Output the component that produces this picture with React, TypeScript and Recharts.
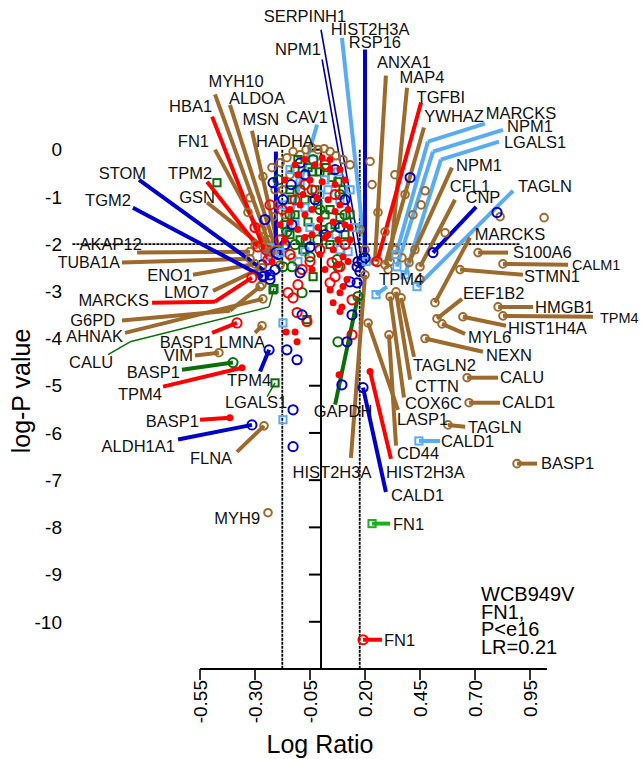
import React from 'react';
import { ComposedChart, XAxis, YAxis, Scatter, ReferenceLine, Customized } from 'recharts';

type P = [number, number];

const xTicks = [-0.55, -0.3, -0.05, 0.2, 0.45, 0.7, 0.95];
const yTicks = [0, -1, -2, -3, -4, -5, -6, -7, -8, -9, -10];

// unlabeled proteins, grouped by marker
const brownPts: P[] = [
  [-0.155, -0.17], [-0.127, -0.04], [-0.095, -0.11], [-0.068, 0], [-0.041, 0.04], [-0.014, 0], [0.014, 0.02],
  [0.041, -0.04], [0.068, -0.13], [0.1, -0.21], [-0.186, -0.28], [-0.223, -0.38], [-0.264, -0.57], [-0.323, -1.02],
  [-0.332, -1.33], [-0.218, -1.42], [-0.268, -1.69], [-0.173, -0.85], [-0.141, -0.53], [-0.241, -1.91], [-0.3, -2.01],
  [-0.164, -2.08], [0.132, -0.32], [0.223, -0.25], [0.232, -0.74], [0.259, -1.33], [0.291, -1.74], [0.336, -0.53],
  [0.382, -0.95], [0.418, -1.38], [0.455, -1.17], [0.473, -0.87], [0.564, -1.76], [0.814, -1.42], [1.014, -1.44],
  [0.177, -1.69], [0.2, -2.12], [0.336, -2.12], [0.368, -2.29], [0.427, -2.12], [0.305, -2.54], [0.45, -2.75],
  [-0.186, -2.44], [-0.268, -2.86], [-0.132, -2.29], [-0.195, -1.17], [-0.164, -1.38], [-0.209, -0.85],
];
const bluePts: P[] = [
  [-0.095, -0.28], [-0.218, -0.7], [-0.136, -0.74], [-0.173, -1.06], [-0.073, -0.53], [0.064, -0.42], [0.109, -1.06],
  [-0.255, -1.48], [-0.132, -1.59], [-0.05, -2.06], [-0.095, -2.61], [0.164, -2.82], [0.132, -2.8], [0.177, -2.58],
  [0.164, -2.48], [-0.086, -3.5], [-0.155, -4.24], [-0.109, -4.45], [-0.127, -5.51], [-0.127, -6.29], [0.141, -3.5],
  [0.118, -4.07], [0.095, -4.98], [0.8, -1.33], [0.405, -0.59], [-0.268, -2.44], [-0.209, -2.54], [-0.232, -2.75],
  [-0.259, -2.67], [-0.195, -2.22], [-0.027, -1.06], [0.086, -1.65], [-0.164, -2.01], [0.018, -1.8],
];
const redCirclePts: P[] = [
  [-0.118, -1.06], [-0.177, -1.27], [-0.041, -0.85], [0.018, -0.32], [-0.141, -2.22], [-0.086, -2.54], [-0.15, -3.03],
  [-0.127, -3.14], [-0.105, -2.86], [0.041, -2.82], [0.064, -2.69], [0.086, -2.48], [0.05, -2.39], [-0.109, -3.45],
  [0.141, -3.92], [-0.064, -3.64], [-0.25, -2.12], [-0.3, -1.65], [-0.232, -1.17], [0.109, -2.01], [0.141, -3.18],
  [-0.05, -2.37], [-0.073, -0.74], [0.064, -0.95], [-0.005, -2.12], [-0.186, -1.91],
];
const redDotPts: P[] = [
  [-0.073, -0.21], [-0.027, -0.32], [0.005, -0.17], [0.041, -0.42], [-0.105, -0.53], [-0.05, -0.64], [0.005, -0.68],
  [0.064, -0.74], [0.109, -0.64], [-0.082, -0.95], [-0.018, -1.02], [0.032, -1.06], [0.086, -1.17], [-0.141, -1.27],
  [-0.073, -1.38], [-0.005, -1.48], [0.055, -1.53], [0.109, -1.59], [-0.105, -1.69], [-0.041, -1.8], [0.018, -1.86],
  [0.077, -1.91], [-0.164, -1.91], [-0.186, -1.59], [0.132, -1.91], [0.055, -2.12], [-0.005, -2.22], [0.1, -2.27],
  [-0.041, -2.54], [0.118, -2.75], [0.1, -2.9], [0.086, -3.03], [0.055, -3.24], [0.086, -3.43], [0.095, -3.33],
  [-0.159, -3.86], [-0.118, -3.86], [-0.109, -4.07], [0.082, -4.77], [-0.223, -2.37],
  [-0.118, -0.32], [0.041, -0.21], [0.086, -0.42], [-0.164, -0.64], [-0.095, -1.17], [-0.041, -1.27], [0.064, -1.31],
  [0.123, -1.27], [-0.141, -1.53], [-0.014, -1.65], [0.032, -1.8], [-0.073, -1.86], [0.132, -1.65], [0.077, -2.44],
  [0.018, -2.54], [0.123, -2.37], [0.041, -2.97],
];
const greenCirclePts: P[] = [
  [-0.173, -2.48], [-0.132, -2.48], [-0.05, -2.27], [-0.086, -3.03], [0.077, -2.48], [0.073, -2.33], [0.077, -4.07],
  [-0.095, -0.85], [-0.005, -1.27], [-0.155, -1.74], [0.086, -0.95], [-0.195, -0.64], [0.041, -1.65], [-0.068, -1.91],
  [-0.036, -0.21], [-0.141, -1.38], [0.109, -1.38], [-0.014, -1.91], [-0.118, -2.01],
];
const greenSquarePts: P[] = [
  [-0.118, -0.42], [-0.059, -0.38], [-0.005, -0.47], [0.05, -0.59], [0.1, -0.85], [-0.141, -0.85], [-0.073, -1.06],
  [-0.014, -1.17], [0.041, -1.27], [-0.118, -1.38], [-0.059, -1.53], [0.086, -1.44], [-0.164, -1.59], [-0.095, -1.91],
  [0.009, -1.69], [-0.036, -2.69], [-0.064, -3.6], [-0.218, -2.97], [-0.473, -0.7], [0.132, -1.38],
  [-0.105, -0.21], [-0.041, -0.47], [0.023, -0.38], [0.077, -0.68], [-0.132, -1.06], [-0.027, -0.85], [0.018, -1.38],
  [0.064, -1.59], [0.109, -1.8], [-0.141, -1.8], [-0.082, -2.12], [0.041, -2.01],
];
const lightBluePts: P[] = [
  [-0.141, -0.42], [-0.095, -0.68], [-0.036, -0.21], [0.032, -0.85], [0.077, -0.47], [-0.177, -1.17], [-0.05, -1.65],
  [0.068, -1.8], [0.123, -2.16], [-0.173, -3.67], [-0.173, -5.72], [-0.255, -2.27], [-0.232, -2.08], [-0.073, -2.16],
  [0.155, -1.65], [-0.005, -0.95], [-0.073, -1.23], [0.086, -1.06], [-0.118, -1.59], [0.018, -0.64], [0.132, -0.85],
  [-0.105, -2.37], [0.086, -2.12],
];

// labelled proteins: point, leader path (elbows then end), text anchor
type Callout = {
  g: string; x: number; y: number; path: P[]; t: P; a: 'start' | 'middle' | 'end';
  c: string; m: 'c' | 's' | 'd'; w?: number; fs?: number;
};
const callouts: Callout[] = [
  { g: 'SERPINH1', x: 0.186, y: -2.37, path: [[0, 2.54]], t: [-0.073, 2.82], a: 'middle', c: 'nv', m: 'c', w: 1.6 },
  { g: 'NPM1', x: 0.168, y: -2.37, path: [[0.005, 1.91]], t: [-0.105, 2.12], a: 'middle', c: 'nv', m: 'c', w: 1.6 },
  { g: 'HIST2H3A', x: 0.205, y: -2.37, path: [[0.095, 2.37]], t: [0.223, 2.56], a: 'middle', c: 'lb', m: 's' },
  { g: 'RSP16', x: 0.2, y: -2.29, path: [[0.2, 2.12]], t: [0.245, 2.27], a: 'middle', c: 'bl', m: 'c' },
  { g: 'ANXA1', x: 0.245, y: -2.37, path: [[0.295, 1.57]], t: [0.377, 1.86], a: 'middle', c: 'br', m: 'c' },
  { g: 'MAP4', x: 0.314, y: -2.37, path: [[0.391, 1.31]], t: [0.459, 1.53], a: 'middle', c: 'br', m: 'c' },
  { g: 'TGFBI', x: 0.255, y: -2.37, path: [[0.455, 1.0]], t: [0.545, 1.12], a: 'middle', c: 'rd', m: 'c' },
  { g: 'YWHAZ', x: 0.291, y: -2.44, path: [[0.468, 0.47]], t: [0.605, 0.7], a: 'middle', c: 'br', m: 'c' },
  { g: 'MARCKS', x: 0.341, y: -2.22, path: [[0.486, 0.17], [0.745, 0.55]], t: [0.909, 0.78], a: 'middle', c: 'lb', m: 's' },
  { g: 'NPM1', x: 0.345, y: -2.48, path: [[0.509, -0.04], [0.827, 0.42]], t: [0.95, 0.49], a: 'middle', c: 'lb', m: 's' },
  { g: 'LGALS1', x: 0.382, y: -2.65, path: [[0.545, -0.21], [0.809, 0.17]], t: [0.973, 0.15], a: 'middle', c: 'lb', m: 's' },
  { g: 'NPM1', x: 0.4, y: -2.39, path: [[0.595, -0.38]], t: [0.718, -0.32], a: 'middle', c: 'br', m: 'c' },
  { g: 'CFL1', x: 0.45, y: -2.48, path: [[0.609, -1.06]], t: [0.677, -0.78], a: 'middle', c: 'br', m: 'c' },
  { g: 'CNP', x: 0.509, y: -2.18, path: [[0.705, -1.21]], t: [0.736, -1.0], a: 'middle', c: 'bl', m: 'c' },
  { g: 'TAGLN', x: 0.436, y: -2.9, path: [[0.873, -0.87]], t: [1.018, -0.78], a: 'middle', c: 'lb', m: 's' },
  { g: 'MARCKS', x: 0.518, y: -3.24, path: [[0.677, -1.86]], t: [0.859, -1.8], a: 'middle', c: 'br', m: 'c' },
  { g: 'S100A6', x: 0.714, y: -2.18, path: [[0.85, -2.18]], t: [0.873, -2.18], a: 'start', c: 'br', m: 'c' },
  { g: 'CALM1', x: 0.827, y: -2.42, path: [[1.123, -2.44]], t: [1.141, -2.44], a: 'start', c: 'br', m: 'c', fs: 14.5 },
  { g: 'STMN1', x: 0.632, y: -2.54, path: [[0.918, -2.65]], t: [0.923, -2.69], a: 'start', c: 'br', m: 'c' },
  { g: 'EEF1B2', x: 0.527, y: -3.58, path: [[0.641, -3.16]], t: [0.645, -3.05], a: 'start', c: 'br', m: 'c' },
  { g: 'HMGB1', x: 0.805, y: -3.33, path: [[0.964, -3.33]], t: [0.973, -3.33], a: 'start', c: 'br', m: 'c' },
  { g: 'TPM4', x: 0.827, y: -3.52, path: [[1.236, -3.54]], t: [1.268, -3.56], a: 'start', c: 'br', m: 'c', fs: 14.5 },
  { g: 'HIST1H4A', x: 0.645, y: -3.54, path: [[0.841, -3.73]], t: [0.85, -3.79], a: 'start', c: 'br', m: 'c' },
  { g: 'MYL6', x: 0.55, y: -3.69, path: [[0.655, -3.9]], t: [0.668, -3.98], a: 'start', c: 'br', m: 'c' },
  { g: 'NEXN', x: 0.473, y: -4.0, path: [[0.736, -4.28]], t: [0.75, -4.36], a: 'start', c: 'br', m: 'c' },
  { g: 'TAGLN2', x: 0.364, y: -3.14, path: [[0.423, -4.39]], t: [0.418, -4.56], a: 'start', c: 'br', m: 'c' },
  { g: 'CTTN', x: 0.341, y: -3.01, path: [[0.405, -4.87]], t: [0.427, -5.0], a: 'start', c: 'br', m: 'c' },
  { g: 'COX6C', x: 0.314, y: -3.11, path: [[0.377, -5.25]], t: [0.382, -5.38], a: 'start', c: 'br', m: 'c' },
  { g: 'LASP1', x: 0.214, y: -3.67, path: [[0.35, -5.51]], t: [0.345, -5.72], a: 'start', c: 'br', m: 'c' },
  { g: 'CD44', x: 0.309, y: -3.92, path: [[0.341, -6.27]], t: [0.345, -6.44], a: 'start', c: 'br', m: 'c' },
  { g: 'CALU', x: 0.664, y: -4.83, path: [[0.805, -4.83]], t: [0.814, -4.81], a: 'start', c: 'br', m: 'c' },
  { g: 'CALD1', x: 0.673, y: -5.36, path: [[0.814, -5.36]], t: [0.823, -5.36], a: 'start', c: 'br', m: 'c' },
  { g: 'TAGLN', x: 0.577, y: -5.83, path: [[0.655, -5.87]], t: [0.668, -5.87], a: 'start', c: 'br', m: 'c' },
  { g: 'CALD1', x: 0.445, y: -6.17, path: [[0.541, -6.17]], t: [0.545, -6.17], a: 'start', c: 'lb', m: 's' },
  { g: 'HIST2H3A', x: 0.223, y: -4.7, path: [[0.318, -6.55]], t: [0.295, -6.84], a: 'start', c: 'rd', m: 'd' },
  { g: 'CALD1', x: 0.191, y: -5.04, path: [[0.295, -7.25]], t: [0.318, -7.31], a: 'start', c: 'bl', m: 'c' },
  { g: 'BASP1', x: 0.891, y: -6.65, path: [[0.982, -6.65]], t: [1.0, -6.65], a: 'start', c: 'br', m: 'c' },
  { g: 'FN1', x: 0.232, y: -7.92, path: [[0.314, -7.92]], t: [0.327, -7.94], a: 'start', c: 'gr', m: 's' },
  { g: 'FN1', x: 0.191, y: -10.38, path: [[0.277, -10.38]], t: [0.286, -10.38], a: 'start', c: 'rd', m: 'c' },
  { g: 'HIST2H3A', x: 0.2, y: -2.65, path: [[0.136, -6.53]], t: [0.05, -6.84], a: 'middle', c: 'br', m: 'c' },
  { g: 'GAPDH', x: 0.168, y: -3.11, path: [[0.064, -5.4]], t: [0.1, -5.53], a: 'middle', c: 'gd', m: 'c' },
  { g: 'MYH9', x: -0.241, y: -7.69, path: [], t: [-0.277, -7.8], a: 'end', c: 'br', m: 'c' },
  { g: 'FLNA', x: -0.259, y: -5.85, path: [[-0.382, -6.4]], t: [-0.5, -6.53], a: 'middle', c: 'br', m: 'c' },
  { g: 'ALDH1A1', x: -0.314, y: -5.83, path: [[-0.65, -6.14]], t: [-0.664, -6.29], a: 'end', c: 'bl', m: 'c' },
  { g: 'BASP1', x: -0.414, y: -5.68, path: [[-0.55, -5.72]], t: [-0.555, -5.76], a: 'end', c: 'rd', m: 'd' },
  { g: 'LGALS1', x: -0.209, y: -4.94, path: [[-0.245, -5.23]], t: [-0.295, -5.36], a: 'middle', c: 'gd', m: 's', w: 1.5 },
  { g: 'TPM4', x: -0.236, y: -4.24, path: [[-0.277, -4.7]], t: [-0.327, -4.89], a: 'middle', c: 'bl', m: 'c' },
  { g: 'TPM4', x: -0.359, y: -4.62, path: [[-0.718, -5.02]], t: [-0.723, -5.19], a: 'end', c: 'rd', m: 'd' },
  { g: 'BASP1', x: -0.4, y: -4.51, path: [[-0.632, -4.66]], t: [-0.641, -4.72], a: 'end', c: 'gd', m: 'c' },
  { g: 'VIM', x: -0.464, y: -4.3, path: [[-0.573, -4.36]], t: [-0.582, -4.36], a: 'end', c: 'br', m: 'c' },
  { g: 'BASP1', x: -0.382, y: -3.67, path: [[-0.495, -3.88]], t: [-0.491, -4.07], a: 'end', c: 'rd', m: 'c' },
  { g: 'LMNA', x: -0.268, y: -3.73, path: [[-0.3, -3.88]], t: [-0.359, -4.07], a: 'middle', c: 'br', m: 'c' },
  { g: 'CALU', x: -0.214, y: -2.94, path: [[-0.236, -3.33], [-0.868, -4.07], [-0.968, -4.34]], t: [-1.045, -4.51], a: 'middle', c: 'gd', m: 's', w: 1.5 },
  { g: 'AHNAK', x: -0.264, y: -3.16, path: [[-0.891, -3.88]], t: [-0.9, -3.96], a: 'end', c: 'br', m: 'c' },
  { g: 'G6PD', x: -0.277, y: -2.9, path: [[-0.414, -3.41], [-0.905, -3.62]], t: [-0.936, -3.62], a: 'end', c: 'br', m: 'c' },
  { g: 'MARCKS', x: -0.314, y: -2.71, path: [[-0.482, -3.22], [-0.768, -3.24]], t: [-0.782, -3.18], a: 'end', c: 'rd', m: 'c' },
  { g: 'LMO7', x: -0.268, y: -2.5, path: [[-0.491, -2.99]], t: [-0.509, -3.01], a: 'end', c: 'br', m: 'c' },
  { g: 'ENO1', x: -0.3, y: -2.42, path: [[-0.582, -2.65]], t: [-0.586, -2.65], a: 'end', c: 'br', m: 'c' },
  { g: 'TUBA1A', x: -0.323, y: -2.31, path: [[-0.905, -2.39]], t: [-0.914, -2.39], a: 'end', c: 'br', m: 'c', fs: 16 },
  { g: 'AKAP12', x: -0.323, y: -2.16, path: [[-0.836, -2.18]], t: [-0.814, -2.0], a: 'end', c: 'br', m: 'c' },
  { g: 'TGM2', x: -0.264, y: -2.69, path: [[-0.855, -1.23]], t: [-0.864, -1.08], a: 'end', c: 'bl', m: 'c' },
  { g: 'STOM', x: -0.232, y: -2.65, path: [[-0.827, -0.64]], t: [-0.795, -0.49], a: 'end', c: 'bl', m: 'c' },
  { g: 'GSN', x: -0.264, y: -2.06, path: [[-0.518, -1.12]], t: [-0.482, -1.0], a: 'end', c: 'br', m: 'c' },
  { g: 'TPM2', x: -0.286, y: -2.06, path: [[-0.518, -0.68]], t: [-0.495, -0.49], a: 'end', c: 'rd', m: 'c' },
  { g: 'FN1', x: -0.232, y: -2.16, path: [[-0.482, 0.0]], t: [-0.509, 0.17], a: 'end', c: 'br', m: 'c' },
  { g: 'HBA1', x: -0.241, y: -2.33, path: [[-0.495, 0.7]], t: [-0.495, 0.91], a: 'end', c: 'rd', m: 'c' },
  { g: 'MYH10', x: -0.223, y: -2.16, path: [[-0.482, 1.17]], t: [-0.386, 1.46], a: 'middle', c: 'br', m: 'c' },
  { g: 'ALDOA', x: -0.205, y: -2.12, path: [[-0.414, 0.95]], t: [-0.291, 1.08], a: 'middle', c: 'br', m: 'c' },
  { g: 'MSN', x: -0.191, y: -2.12, path: [[-0.314, 0.4]], t: [-0.273, 0.64], a: 'middle', c: 'br', m: 'c' },
  { g: 'HADHA', x: -0.205, y: -2.18, path: [[-0.205, -0.04]], t: [-0.164, 0.17], a: 'middle', c: 'bl', m: 'c' },
  { g: 'CAV1', x: -0.186, y: -2.18, path: [[-0.018, 0.53]], t: [-0.064, 0.68], a: 'middle', c: 'lb', m: 's' },
  { g: 'TPM4', x: 0.25, y: -3.07, path: [[0.3, -2.9]], t: [0.364, -2.75], a: 'middle', c: 'lb', m: 's' },
];

const noteLines = ['WCB949V', 'FN1,', 'P<e16', 'LR=0.21'];

const COLORS: Record<string, string> = {
  br: '#9c6a2c',
  rd: '#ff0000',
  bl: '#0000c8',
  nv: '#000090',
  lb: '#5aacf2',
  gd: '#0b6e0b',
  gr: '#1fae1f',
};

const groups: { pts: P[]; k: string; c: string }[] = [
  { pts: brownPts, k: 'bc', c: 'br' },
  { pts: greenSquarePts, k: 's', c: 'gd' },
  { pts: lightBluePts, k: 's', c: 'lb' },
  { pts: greenCirclePts, k: 'c', c: 'gd' },
  { pts: redCirclePts, k: 'c', c: 'rd' },
  { pts: bluePts, k: 'c', c: 'bl' },
  { pts: redDotPts, k: 'd', c: 'rd' },
];

const Marker = (props: any) => {
  const { cx, cy, payload } = props;
  if (cx == null || cy == null) return <g />;
  const col = COLORS[payload.c];
  if (payload.k === 'bc')
    return <circle cx={cx} cy={cy} r={3.8} fill="none" stroke={col} strokeWidth={2} />;
  if (payload.k === 'c')
    return <circle cx={cx} cy={cy} r={4.6} fill="none" stroke={col} strokeWidth={2} />;
  if (payload.k === 's')
    return <rect x={cx - 3.6} y={cy - 3.6} width={7.2} height={7.2} fill="none" stroke={col} strokeWidth={2} />;
  return <circle cx={cx} cy={cy} r={3.5} fill={col} />;
};

const Label = (props: any) => {
  const { cx, cy, payload } = props;
  if (cx == null || cy == null) return <g />;
  return (
    <text x={cx} y={cy} dy="0.35em" textAnchor={payload.a} fontSize={payload.fs} fill="#111">
      {payload.name}
    </text>
  );
};

const XTick = (props: any) => {
  const { x, y, payload } = props;
  return (
    <text x={x} y={y} transform={`rotate(-90 ${x} ${y})`} textAnchor="end" dy="0.36em" fontSize={19} fill="#000">
      {Number(payload.value).toFixed(2)}
    </text>
  );
};

const Titles = () => (
  <g fill="#000">
    <text x={320} y={753} textAnchor="middle" fontSize={25}>Log Ratio</text>
    <text x={30} y={391} transform="rotate(-90 30 391)" textAnchor="middle" fontSize={25}>log-P value</text>
    {noteLines.map((s, i) => (
      <text key={i} x={481} y={601 + i * 17.6} fontSize={20}>{s}</text>
    ))}
  </g>
);

export default function App() {
  const bgData = groups.flatMap((g) => g.pts.map(([x, y]) => ({ x, y, k: g.k, c: g.c })));
  const hitData = callouts.map((o) => ({
    x: o.x,
    y: o.y,
    k: o.m === 'c' ? (o.c === 'br' ? 'bc' : 'c') : o.m,
    c: o.c,
  }));
  const labelData = callouts.map((o) => ({ x: o.t[0], y: o.t[1], name: o.g, a: o.a, fs: o.fs ?? 16.5 }));
  const segments: { a: P; b: P; c: string; w: number }[] = [];
  callouts.forEach((o) => {
    const chain: P[] = [[o.x, o.y], ...o.path];
    for (let i = 1; i < chain.length; i++) {
      segments.push({ a: chain[i - 1], b: chain[i], c: COLORS[o.c], w: o.w ?? 4 });
    }
  });

  return (
    <div
      style={{
        position: 'absolute',
        left: 0,
        top: 0,
        width: 641,
        height: 759,
        background: '#fff',
        fontFamily: "'Liberation Sans', Arial, sans-serif",
      }}
    >
      <ComposedChart width={641} height={759} margin={{ top: 0, right: 11, bottom: 0, left: 0 }}>
        <XAxis
          type="number"
          dataKey="x"
          domain={[-1.141, 1.4045]}
          ticks={xTicks}
          interval={0}
          height={90}
          axisLine={false}
          tickLine={{ stroke: '#000', strokeWidth: 1.6 }}
          tickSize={11}
          tickMargin={0}
          tick={<XTick />}
        />
        <YAxis
          type="number"
          dataKey="y"
          domain={[-11, 3.17]}
          ticks={yTicks}
          interval={0}
          width={70}
          axisLine={false}
          tickLine={false}
          tick={{ fontSize: 19, fill: '#000' }}
        />

        <Scatter data={bgData} shape={<Marker />} isAnimationActive={false} />

        {/* axis frame and significance cut-offs */}
        <ReferenceLine segment={[{ x: -0.55, y: -11 }, { x: 1.027, y: -11 }]} stroke="#000" strokeWidth={2} />
        <ReferenceLine segment={[{ x: 0, y: 0 }, { x: 0, y: -11 }]} stroke="#000" strokeWidth={2} />
        {yTicks.map((t) => (
          <ReferenceLine key={'yt' + t} segment={[{ x: -0.055, y: t }, { x: 0, y: t }]} stroke="#000" strokeWidth={2} />
        ))}
        <ReferenceLine segment={[{ x: -0.176, y: 0 }, { x: -0.176, y: -11 }]} stroke="#000" strokeWidth={1.8} strokeDasharray="3 1" />
        <ReferenceLine segment={[{ x: 0.176, y: 0 }, { x: 0.176, y: -11 }]} stroke="#000" strokeWidth={1.8} strokeDasharray="3 1" />
        <ReferenceLine segment={[{ x: -1.13, y: -2 }, { x: 0.905, y: -2 }]} stroke="#000" strokeWidth={1.6} strokeDasharray="3 1" />

        {segments.map((s, i) => (
          <ReferenceLine
            key={'seg' + i}
            segment={[{ x: s.a[0], y: s.a[1] }, { x: s.b[0], y: s.b[1] }]}
            stroke={s.c}
            strokeWidth={s.w}
          />
        ))}

        <Scatter data={hitData} shape={<Marker />} isAnimationActive={false} />
        <Scatter data={labelData} shape={<Label />} isAnimationActive={false} />
        <Customized component={<Titles />} />
      </ComposedChart>
    </div>
  );
}
